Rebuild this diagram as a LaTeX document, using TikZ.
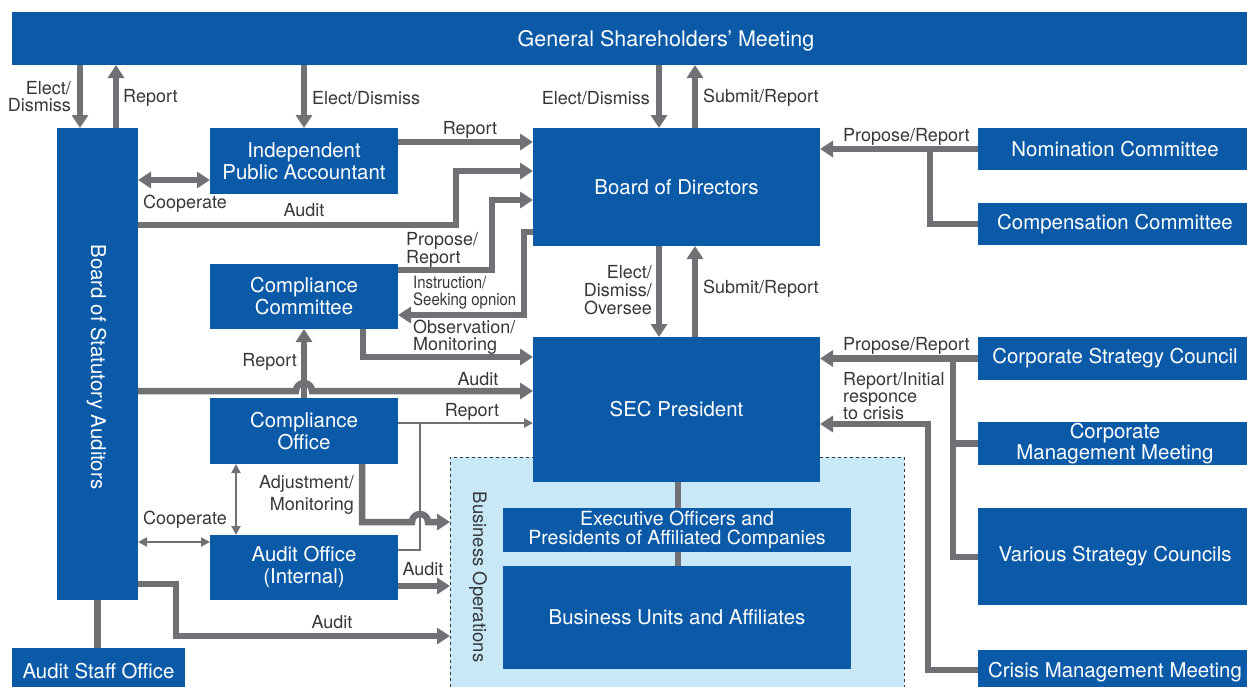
\documentclass[tikz,border=0pt]{standalone}
\usepackage{fontspec}
\setmainfont{TeX Gyre Heros}
\newfontfamily\condfont[FakeStretch=0.88]{TeX Gyre Heros}
\usetikzlibrary{arrows.meta}
\definecolor{sblue}{RGB}{11,90,168}
\definecolor{lgray}{RGB}{112,113,116}
\definecolor{tgray}{RGB}{55,55,58}
\definecolor{lblue}{RGB}{200,232,248}
\newcommand{\boxfont}{\fontsize{20.4}{22}\selectfont}
\newcommand{\lblfont}{\fontsize{18}{17}\selectfont}
\tikzset{
  box/.style={fill=sblue, text=white, inner sep=0pt, outer sep=0pt, anchor=north west, align=center, font=\boxfont},
  thk/.style={draw=lgray, line width=6.5pt},
  thn/.style={draw=lgray, line width=2pt},
  lbl/.style={text=tgray, font=\lblfont, inner sep=0pt},
  arr/.style={-{Triangle[length=13pt,width=16pt]}},
  dblarr/.style={{Triangle[length=13pt,width=16pt]}-{Triangle[length=13pt,width=16pt]}},
  arrthin/.style={-{Triangle[length=9pt,width=9pt]}},
  dblthin/.style={{Triangle[length=9pt,width=9pt]}-{Triangle[length=9pt,width=9pt]}},
}
\begin{document}
\begin{tikzpicture}[x=1pt,y=-1pt]
\useasboundingbox (0,0) rectangle (1247,686);
% business operations region
\node[draw=tgray, dashed, line width=0.8pt, fill=lblue, inner sep=0pt, outer sep=0pt, anchor=north west, minimum width=454pt, minimum height=245pt] (bops) at (450,457) {};
\node[lbl, font=\fontsize{18.5}{18}\selectfont, rotate=-90] (bopslbl) at (478,577) {Business Operations};
% boxes
\node[box, minimum width=1308pt, minimum height=53pt] (gsm) at (12,12) {};
\node[text=white, font=\fontsize{21.5}{22}\selectfont, inner sep=0pt] (gsmtxt) at (666,41) {General Shareholders’ Meeting};
\node[box, minimum width=81pt, minimum height=472pt] (bsa) at (57,128) {};
\node[text=white, font=\boxfont, inner sep=0pt, rotate=-90] (bsatxt) at (96.5,367) {Board of Statutory Auditors};
\node[box, minimum width=188pt, minimum height=66pt] (ipa) at (210,128) {Independent\\Public Accountant};
\node[box, minimum width=287pt, minimum height=118pt] (bod) at (533,128) {Board of Directors};
\node[box, minimum width=274pt, minimum height=42pt] (nom) at (978,128) {Nomination Committee};
\node[box, minimum width=274pt, minimum height=42pt] (comp) at (978,203) {Compensation Committee};
\node[box, minimum width=188pt, minimum height=65pt] (cc) at (210,264) {Compliance\\Committee};
\node[box, minimum width=287pt, minimum height=145pt] (sec) at (533,337) {SEC President};
\node[box, minimum width=188pt, minimum height=66pt] (co) at (210,398) {Compliance\\Office};
\node[box, minimum width=188pt, minimum height=65pt] (ao) at (210,535) {Audit Office\\(Internal)};
\node[box, minimum width=274pt, minimum height=43pt] (csc) at (978,337) {Corporate Strategy Council};
\node[box, minimum width=274pt, minimum height=43pt, font=\fontsize{20.4}{18}\selectfont] (cmm) at (978,422) {Corporate\\Management Meeting};
\node[box, minimum width=274pt, minimum height=97pt] (vsc) at (978,508) {Various Strategy Councils};
\node[box, minimum width=274pt, minimum height=42pt] (crisis) at (978,650) {};
\node[text=white, font=\boxfont, inner sep=0pt] (crisistxt) at (1115,672) {Crisis Management Meeting};
\node[box, minimum width=348pt, minimum height=44pt, font=\fontsize{19.5}{19}\selectfont] (exo) at (503,508) {Executive Officers and\\Presidents of Affiliated Companies};
\node[box, minimum width=348pt, minimum height=103pt] (bu) at (503,566) {Business Units and Affiliates};
\node[box, minimum width=173pt, minimum height=46pt] (aso) at (12,648) {};
\node[text=white, font=\boxfont, inner sep=0pt] (asotxt) at (98.5,671.5) {Audit Staff Office};
% connectors
\draw[thk,arr] (80,0 |- gsm.south) -- (80,0 |- bsa.north);
\draw[thk,arr] (116,0 |- bsa.north) -- (116,0 |- gsm.south);
\draw[thk,arr] (ipa.north |- gsm.south) -- (ipa.north);
\draw[thk,arr] (659,0 |- gsm.south) -- (659,0 |- bod.north);
\draw[thk,arr] (695,0 |- bod.north) -- (695,0 |- gsm.south);
\draw[thk,arr] (ipa.east |- 0,142) -- (bod.west |- 0,142);
\draw[thk,dblarr] (bsa.east |- 0,180) -- (ipa.west |- 0,180);
\draw[thk,arr] (bsa.east |- 0,225) -| (456,171) -- (bod.west |- 0,171);
\draw[thk,arr] (cc.east |- 0,270) -| (492,200) -- (bod.west |- 0,200);
\draw[thk,arr] (bod.west |- 0,232) -| (524,315) -- (cc.east |- 0,315);
\draw[thk,arr] (363,0 |- cc.south) |- (sec.west |- 0,357);
\draw[thk,arr] (bsa.east |- 0,391) -- (296,391) arc[start angle=180,end angle=0,radius=8pt] -- (sec.west |- 0,391);
\draw[thk,arr] (co.north) -- (cc.south);
\draw[thn,arrthin] (co.east |- 0,423) -- (sec.west |- 0,423);
\draw[thn] (ao.east |- 0,550) -| (420,423);
\draw[thk,arr] (362,0 |- co.south) |- (412,522) arc[start angle=180,end angle=0,radius=8pt] -- (bops.west |- 0,522);
\draw[thn,dblthin] (236,0 |- co.south) -- (236,0 |- ao.north);
\draw[thn,dblthin] (bsa.east |- 0,542) -- (ao.west |- 0,542);
\draw[thk,arr] (ao.east |- 0,586) -- (bops.west |- 0,586);
\draw[thk,arr] (bsa.east |- 0,584) -| (176,636) -- (bops.west |- 0,636);
\draw[thk] (bsa.south) -- (bsa.south |- aso.north);
\draw[thk,arr] (659,0 |- bod.south) -- (659,0 |- sec.north);
\draw[thk,arr] (695,0 |- sec.north) -- (695,0 |- bod.south);
\draw[thk] (678,0 |- sec.south) -- (678,0 |- exo.north);
\draw[thk] (678,0 |- exo.south) -- (678,0 |- bu.north);
\draw[thk,arr] (nom.west) -- (bod.east |- nom.west);
\draw[thk] (comp.west) -| (930,0 |- nom.west);
\draw[thk,arr] (csc.west) -- (sec.east |- csc.west);
\draw[thk] (cmm.west) -| (953,0 |- csc.west);
\draw[thk] (vsc.west |- 0,557) -| (953,0 |- csc.west);
\draw[thk,arr] (crisis.west |- 0,670) -| (928,424) -- (sec.east |- 0,424);
% labels
\node[lbl, anchor=east, align=right] (l1) at (71,97) {Elect/\\Dismiss};
\node[lbl, anchor=west] (l2) at (123,98) {Report};
\node[lbl, anchor=west] (l3) at (312,98) {Elect/Dismiss};
\node[lbl, anchor=east] (l4) at (650,98) {Elect/Dismiss};
\node[lbl, anchor=west] (l5) at (703,98) {Submit/Report};
\node[lbl] (l6) at (470,130) {Report};
\node[lbl, anchor=west] (l7) at (143,204) {Cooperate};
\node[lbl] (l8) at (304,210) {Audit};
\node[lbl, anchor=west, align=left] (l9) at (406,250) {Propose/\\Report};
\node[lbl, anchor=west, align=left, font=\condfont\fontsize{17}{17}\selectfont] (l10) at (413,292.5) {Instruction/\\Seeking opnion};
\node[lbl, anchor=west, align=left] (l11) at (413,337) {Observation/\\Monitoring};
\node[lbl] (l12) at (478,379) {Audit};
\node[lbl, anchor=east] (l13) at (297,362) {Report};
\node[lbl] (l14) at (472,412) {Report};
\node[lbl, anchor=east, align=right, font=\fontsize{18}{22}\selectfont] (l15) at (354,495) {Adjustment/\\Monitoring};
\node[lbl, anchor=west] (l16) at (143,520) {Cooperate};
\node[lbl] (l17) at (423,569) {Audit};
\node[lbl] (l18) at (332,622) {Audit};
\node[lbl, anchor=east, align=right, font=\fontsize{18}{18}\selectfont] (l19) at (652,290) {Elect/\\Dismiss/\\Oversee};
\node[lbl, anchor=west] (l20) at (703,289) {Submit/Report};
\node[lbl, anchor=west] (l21) at (843,137) {Propose/Report};
\node[lbl, anchor=west] (l22) at (843,346) {Propose/Report};
\node[lbl, anchor=west, align=left, font=\fontsize{18}{17}\selectfont] (l23) at (843,396) {Report/Initial\\responce\\to crisis};
\end{tikzpicture}
\end{document}
